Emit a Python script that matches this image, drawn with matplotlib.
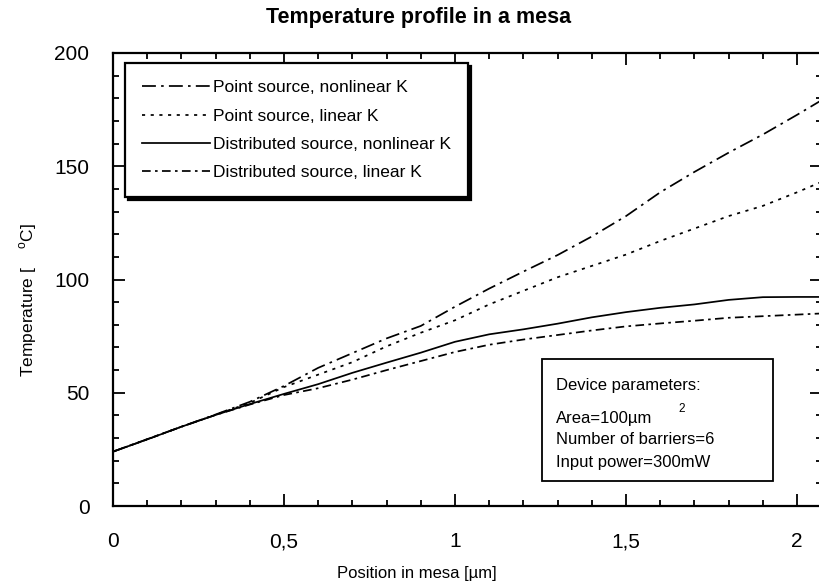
import matplotlib
matplotlib.use('Agg')
import matplotlib.pyplot as plt
from matplotlib.patches import Rectangle
from matplotlib.ticker import MultipleLocator

# position in mesa [um]
position = [0, 0.1, 0.2, 0.3, 0.4, 0.5, 0.6, 0.7, 0.8, 0.9, 1.0, 1.1, 1.2,
            1.3, 1.4, 1.5, 1.6, 1.7, 1.8, 1.9, 2.0, 2.07]

# temperature [C] for each model
point_nonlinear = [24, 29.5, 35, 40.4, 46, 53, 61, 67.5, 74, 79.5, 88, 96, 103.5,
                   110.8, 119, 128, 138.5, 147.5, 156, 164, 172.7, 179]
point_linear = [24, 29.5, 35, 40.3, 45.5, 52.5, 58, 63.5, 70.5, 76.5, 82, 89, 95,
                101, 106, 111, 117, 122.5, 128, 132.5, 138.5, 143]
distr_nonlinear = [24, 29.4, 35, 40.2, 45, 49.5, 53.8, 58.8, 63.3, 67.7, 72.5, 75.8, 78,
                   80.5, 83.3, 85.6, 87.5, 89, 91, 92.2, 92.3, 92.3]
distr_linear = [24, 29.4, 35, 40.2, 44.8, 49, 52, 55.8, 60, 64, 68, 71.2, 73.5,
                75.5, 77.5, 79.3, 80.6, 81.8, 83.1, 83.8, 84.5, 85]

labels = ['Point source, nonlinear K', 'Point source, linear K',
          'Distributed source, nonlinear K', 'Distributed source, linear K']

plt.rcParams['font.family'] = ['Liberation Sans', 'DejaVu Sans']
plt.rcParams['mathtext.fontset'] = 'custom'
plt.rcParams['mathtext.rm'] = 'Liberation Sans'

fig = plt.figure(figsize=(8.2, 5.87), dpi=100)
# axes: left 113px, right 822px (just past the edge), top 53px, bottom 506px
ax = fig.add_axes([113 / 820, 1 - 506 / 587, 709 / 820, 453 / 587])

lw = 1.25
ax.plot(position, point_nonlinear, color='black', lw=lw, dashes=(8, 3, 1.5, 3), label=labels[0])
ax.plot(position, point_linear, color='black', lw=lw, dashes=(1.8, 3.2), label=labels[1])
ax.plot(position, distr_nonlinear, color='black', lw=lw, linestyle='-', label=labels[2])
ax.plot(position, distr_linear, color='black', lw=lw, dashes=(5, 2.5, 1.5, 2.5), label=labels[3])

ax.set_xlim(0, 2.073)
ax.set_ylim(0, 200)
ax.xaxis.set_major_locator(MultipleLocator(0.5))
ax.xaxis.set_minor_locator(MultipleLocator(0.1))
ax.yaxis.set_major_locator(MultipleLocator(50))
ax.yaxis.set_minor_locator(MultipleLocator(10))
ax.xaxis.set_major_formatter(lambda v, p: f'{v:g}'.replace('.', ','))

ax.tick_params(which='both', direction='in', top=True, right=True, width=1.3)
ax.tick_params(which='major', length=8.5, labelsize=15)
ax.tick_params(axis='x', which='major', pad=19)
ax.tick_params(axis='y', which='major', pad=17)
ax.tick_params(which='minor', length=4.3)
for s in ax.spines.values():
    s.set_linewidth(1.6)

ax.set_xlabel('Position in mesa [µm]', fontsize=12)
ax.xaxis.set_label_coords((417 - 113) / 709, -0.132)
ax.set_ylabel(r'Temperature [    $^{\mathrm{o}}$C]', fontsize=12.5)
ax.yaxis.set_label_coords(-0.105, 0.455)

fig.text(419 / 820, 1 - 18 / 587, 'Temperature profile in a mesa', ha='center', va='center',
         fontsize=15.5, fontweight='bold')

leg = ax.legend(loc='upper left', bbox_to_anchor=(0.017, 0.978), borderaxespad=0,
                fontsize=12.5, handlelength=3.9, handletextpad=0.15, labelspacing=0.75,
                borderpad=1.0, fancybox=False, framealpha=1, edgecolor='black',
                shadow={'color': 'black', 'alpha': 1})
leg.get_frame().set_linewidth(1.6)

# device parameter box
ax.add_patch(Rectangle((0.605, 0.055), 0.326, 0.27, transform=ax.transAxes,
                       facecolor='white', edgecolor='black', lw=1.3, zorder=5))
info = ['Device parameters:', 'Area=100µm', 'Number of barriers=6', 'Input power=300mW']
for txt, yy in zip(info, [0.265, 0.194, 0.146, 0.095]):
    ax.text(0.625, yy, txt, transform=ax.transAxes, fontsize=12, va='center', zorder=6)
ax.text(0.797, 0.214, '2', transform=ax.transAxes, fontsize=8.5, va='center', zorder=6)

plt.savefig('out.png', dpi=100)
